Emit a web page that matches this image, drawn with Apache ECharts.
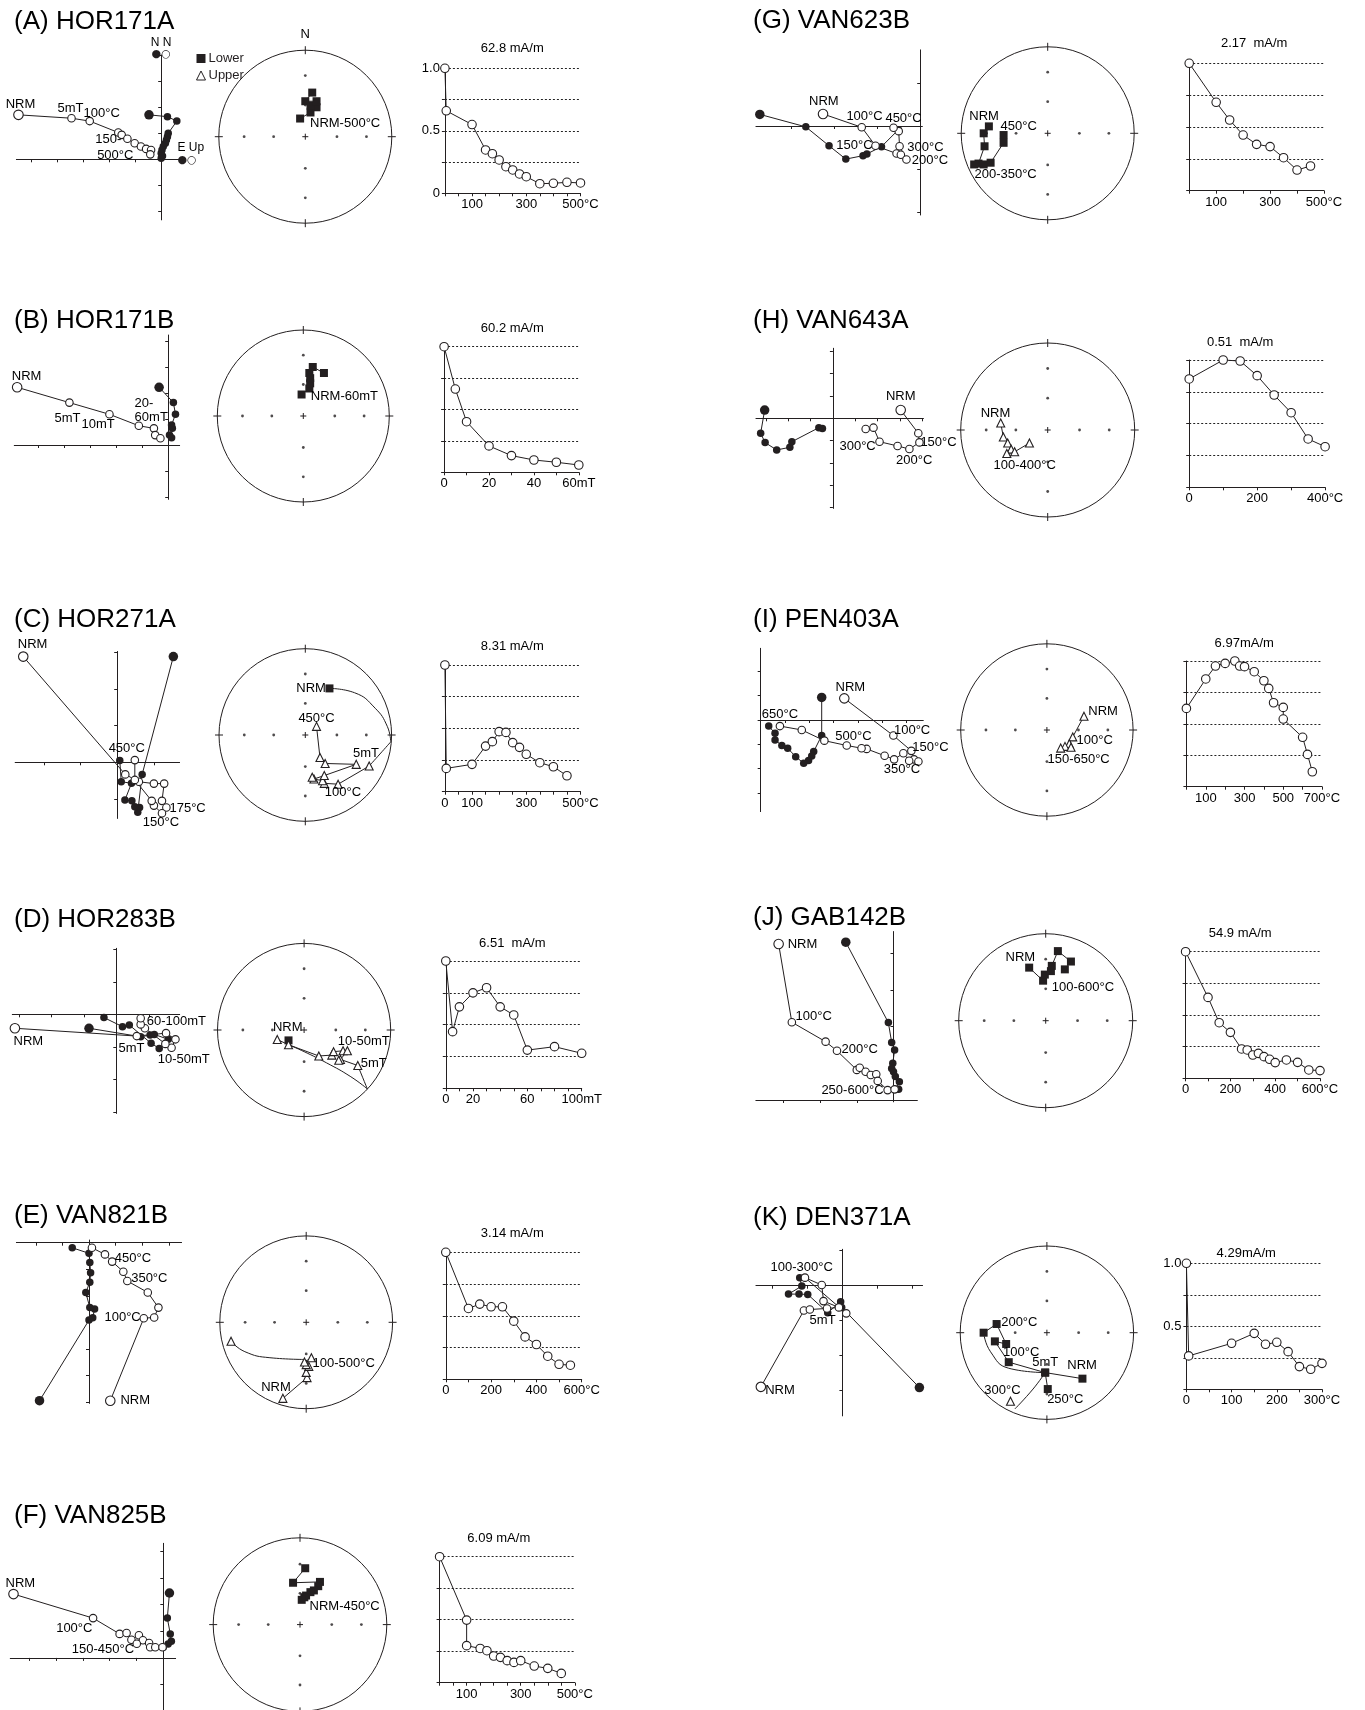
<!DOCTYPE html>
<html>
<head>
<meta charset="utf-8">
<script src="https://cdn.jsdelivr.net/npm/echarts@6/dist/echarts.min.js"></script>
<style>
  html, body { margin: 0; padding: 0; background: #fff; }
  #chart { width: 1365px; height: 1710px; }
</style>
</head>
<body>
<div id="chart"></div>
<script>
// ---------------------------------------------------------------
// Demagnetisation data: orthogonal (Zijderveld) projections in tick
// units, equal-area net positions (east, north) in net radii, and
// normalised intensity decay curves.
// ---------------------------------------------------------------

// (A) HOR171A
const hor171aOpen = [[-5.49,1.71],[-3.45,1.58],[-2.75,1.47],[-1.65,1.03],[-1.52,0.94],[-1.30,0.79],[-1.02,0.62],[-0.78,0.49],[-0.58,0.40],[-0.39,0.36],[-0.42,0.19]];
const hor171aFilled = [[-0.47,1.71],[0.24,1.64],[0.60,1.47],[0.27,1.00],[0.24,0.87],[0.20,0.74],[0.16,0.62],[0.08,0.49],[0.03,0.36],[0.00,0.23],[0.05,0.13],[0.00,0.04]];
const hor171aLower = [[[-0.06,0.21],[0.06,0.28],[0.13,0.34],[0.06,0.36],[0.13,0.41],[0.00,0.41],[0.08,0.51]]];
const hor171aSteps = [0,5,100,150,175,200,225,250,275,300,350,400,450,500];
const hor171aMoment = [1.0,0.66,0.55,0.347,0.317,0.267,0.213,0.187,0.155,0.133,0.077,0.08,0.088,0.083];
const hor171aStepLabels = [100,300,500];

// (B) HOR171B
const hor171bOpen = [[-5.81,2.22],[-3.80,1.63],[-2.26,1.18],[-1.13,0.74],[-0.55,0.64],[-0.50,0.38],[-0.30,0.26]];
const hor171bFilled = [[-0.35,2.22],[0.20,1.63],[0.28,1.18],[0.13,0.77],[0.16,0.64],[0.05,0.38],[0.13,0.28]];
const hor171bLower = [[[-0.02,0.25],[0.07,0.32],[0.08,0.38],[0.08,0.44],[0.07,0.50],[0.11,0.57],[0.24,0.50]]];
const hor171bSteps = [0,5,10,20,30,40,50,60];
const hor171bMoment = [1.0,0.663,0.403,0.21,0.133,0.098,0.08,0.058];
const hor171bStepLabels = [0,20,40,60];

// (C) HOR271A
const hor271aOpen = [[-2.56,2.88],[0.22,-0.33],[0.59,-0.53],[1.00,-0.58],[1.28,-0.58],[1.22,-1.05],[1.34,-1.23],[1.22,-1.39],[1.00,-1.18],[0.94,-1.05],[0.48,-0.48],[0.48,0.06]];
const hor271aFilled = [[1.53,2.88],[0.68,-0.33],[0.56,-1.36],[0.61,-1.23],[0.48,-1.21],[0.40,-1.05],[0.21,-1.03],[0.39,-0.57],[0.11,-0.53],[0.07,0.05]];
const hor271aLower = [[[0.28,0.54]]];
const hor271aUpper = [[[0.74,-0.36],[0.38,-0.57],[0.22,-0.56],[0.20,-0.53],[0.10,-0.51],[0.08,-0.49],[0.22,-0.47],[0.59,-0.34],[0.23,-0.33],[0.17,-0.26],[0.13,0.10]]];
const hor271aArcs = [[[0.28,0.54],[0.57,0.49],[0.81,0.31],[0.95,0.10],[0.99,-0.08]],[[0.99,-0.08],[0.74,-0.36]]];
const hor271aSteps = [0,5,100,150,175,200,225,250,275,300,350,400,450];
const hor271aMoment = [1.0,0.184,0.216,0.36,0.395,0.474,0.468,0.387,0.35,0.295,0.229,0.197,0.126];
const hor271aStepLabels = [0,100,300,500];

// (D) HOR283B
const hor283bOpen = [[-3.12,-0.43],[0.63,-0.67],[1.53,-0.58],[1.82,-0.77],[1.70,-1.03],[1.51,-0.91],[0.88,-0.43],[0.75,-0.31],[0.75,-0.12]];
const hor283bFilled = [[-0.84,-0.43],[0.75,-0.69],[1.04,-0.64],[1.17,-0.62],[1.60,-0.77],[1.32,-1.05],[1.07,-0.89],[0.40,-0.33],[0.19,-0.38],[-0.38,-0.10]];
const hor283bLower = [[[-0.18,-0.12]]];
const hor283bUpper = [[[-0.31,-0.11],[-0.18,-0.17],[0.17,-0.30],[0.32,-0.29],[0.34,-0.25],[0.45,-0.24],[0.50,-0.24],[0.42,-0.34],[0.40,-0.35],[0.62,-0.41]]];
const hor283bArcs = [[[-0.18,-0.17],[0.00,-0.25],[0.26,-0.38],[0.54,-0.54],[0.73,-0.68]],[[0.62,-0.41],[0.73,-0.68]]];
const hor283bSteps = [0,5,10,20,30,40,50,60,80,100];
const hor283bMoment = [1.0,0.445,0.64,0.75,0.79,0.64,0.576,0.30,0.327,0.275];
const hor283bStepLabels = [0,20,60,100];

// (E) VAN821B
const van821bOpen = [[0.80,-5.94],[2.06,-2.84],[2.45,-2.81],[2.61,-2.44],[2.21,-1.87],[1.44,-1.44],[1.29,-1.09],[0.87,-0.71],[0.60,-0.44],[0.11,-0.19]];
const van821bFilled = [[-1.86,-5.94],[0.00,-2.91],[0.14,-2.82],[0.21,-2.49],[0.03,-2.44],[-0.12,-1.87],[0.03,-1.49],[0.06,-1.13],[0.03,-0.74],[0.00,-0.40],[-0.63,-0.19]];
const van821bUpper = [[[-0.27,-0.88],[0.01,-0.64],[0.00,-0.58],[0.03,-0.51],[0.00,-0.49],[-0.02,-0.46],[0.06,-0.41]],[[-0.87,-0.22]]];
const van821bArcs = [[[-0.87,-0.22],[-0.71,-0.34],[-0.42,-0.41],[-0.02,-0.43]]];
const van821bSteps = [0,100,150,200,250,300,350,400,450,500,550];
const van821bMoment = [1.0,0.558,0.592,0.571,0.571,0.458,0.334,0.274,0.182,0.118,0.111];
const van821bStepLabels = [0,200,400,600];

// (F) VAN825B
const van825bOpen = [[-5.59,2.39],[-2.62,1.49],[-1.63,0.90],[-1.37,0.93],[-1.19,0.68],[-0.91,0.85],[-0.76,0.66],[-0.99,0.53],[-0.53,0.56],[-0.49,0.40],[-0.30,0.40],[-0.03,0.40]];
const van825bFilled = [[0.23,2.43],[0.15,1.49],[0.26,0.90],[0.30,0.62],[0.18,0.52],[0.00,0.40]];
const van825bLower = [[[0.06,0.66],[-0.08,0.49],[0.23,0.50],[0.21,0.45],[0.16,0.40],[0.12,0.38],[0.07,0.34],[0.05,0.32],[0.02,0.29]]];
const van825bSteps = [0,100,100,150,175,200,225,250,275,300,350,400,450];
const van825bMoment = [1.0,0.497,0.294,0.272,0.254,0.212,0.201,0.175,0.161,0.175,0.132,0.114,0.074];
const van825bStepLabels = [100,300,500];

// (G) VAN623B
const van623bOpen = [[-2.26,0.28],[-1.36,-0.03],[-1.04,-0.46],[-0.55,-0.64],[-0.45,-0.67],[-0.32,-0.78],[-0.48,-0.47],[-0.50,-0.12],[-0.62,-0.04]];
const van623bFilled = [[-3.73,0.27],[-2.66,-0.02],[-2.12,-0.46],[-1.73,-0.77],[-1.33,-0.69],[-1.24,-0.65],[-0.90,-0.48],[-0.51,-0.09]];
const van623bLower = [[[-0.68,0.08],[-0.74,0.00],[-0.73,-0.15],[-0.80,-0.35],[-0.85,-0.36],[-0.74,-0.36],[-0.66,-0.34],[-0.51,-0.11],[-0.51,-0.02]]];
const van623bSteps = [0,100,150,200,250,300,350,400,450];
const van623bMoment = [1.0,0.694,0.555,0.437,0.364,0.346,0.259,0.162,0.194];
const van623bStepLabels = [100,300,500];

// (H) VAN643A
const van643aOpen = [[3.04,0.37],[3.83,-0.67],[3.88,-1.08],[3.43,-1.38],[2.90,-1.24],[2.09,-1.05],[1.82,-0.42],[1.47,-0.48]];
const van643aFilled = [[-3.06,0.37],[-3.24,-0.67],[-3.04,-1.09],[-2.52,-1.42],[-1.93,-1.30],[-1.84,-1.05],[-0.63,-0.42],[-0.47,-0.46]];
const van643aUpper = [[[-0.54,0.08],[-0.51,-0.08],[-0.46,-0.15],[-0.42,-0.22],[-0.47,-0.27],[-0.38,-0.25],[-0.21,-0.15]]];
const van643aSteps = [0,100,150,200,250,300,350,400];
const van643aMoment = [0.851,1.0,0.992,0.877,0.725,0.586,0.38,0.319];
const van643aStepLabels = [0,200,400];

// (I) PEN403A
const pen403aOpen = [[3.44,0.89],[5.46,-0.64],[6.20,-1.27],[6.31,-1.62],[6.49,-1.71],[6.11,-1.68],[5.87,-1.37],[5.49,-1.62],[5.10,-1.47],[4.36,-1.19],[4.15,-1.16],[3.54,-1.05],[2.62,-0.85],[1.69,-0.41],[0.79,-0.25]];
const pen403aFilled = [[2.51,0.93],[2.51,-0.64],[2.18,-1.30],[2.10,-1.48],[1.97,-1.67],[1.77,-1.78],[1.44,-1.51],[1.11,-1.16],[0.87,-1.05],[0.59,-0.82],[0.59,-0.55],[0.33,-0.25]];
const pen403aUpper = [[[0.43,0.16],[0.30,-0.08],[0.26,-0.16],[0.21,-0.19],[0.16,-0.21],[0.28,-0.20]]];
const pen403aSteps = [0,100,150,200,250,275,300,350,400,425,450,500,500,600,625,650];
const pen403aMoment = [0.623,0.857,0.96,0.981,1.0,0.96,0.955,0.915,0.843,0.782,0.668,0.631,0.538,0.393,0.257,0.119];
const pen403aStepLabels = [100,300,500,700];

// (J) GAB142B
const gab142bOpen = [[-3.13,4.25],[-2.77,2.12],[-1.85,1.59],[-1.54,1.34],[-1.00,0.82],[-0.92,0.88],[-0.76,0.77],[-0.62,0.68],[-0.47,0.70],[-0.43,0.52],[-0.16,0.27],[0.03,0.29]];
const gab142bFilled = [[-1.30,4.30],[-0.14,2.11],[-0.05,1.57],[0.03,1.36],[-0.02,1.00],[-0.05,0.86],[0.00,0.77],[0.05,0.64],[0.16,0.50],[0.05,0.29],[0.14,0.29]];
const gab142bLower = [[[-0.19,0.61],[-0.03,0.46],[-0.01,0.53],[0.06,0.57],[0.07,0.63],[0.14,0.80],[0.29,0.68],[0.22,0.59]]];
const gab142bSteps = [0,100,150,200,250,275,300,325,350,375,400,450,500,550,600];
const gab142bMoment = [1.0,0.639,0.439,0.363,0.232,0.224,0.184,0.197,0.171,0.15,0.124,0.145,0.126,0.066,0.061];
const gab142bStepLabels = [0,200,400,600];

// (K) DEN371A
const den371aOpen = [[-2.33,-2.89],[-1.10,-0.71],[-0.93,-0.68],[-0.44,-0.65],[-0.10,-0.62],[-0.54,-0.44],[-0.59,0.02],[-1.07,0.23],[0.11,-0.79]];
const den371aFilled = [[2.20,-2.91],[-0.02,-0.62],[-0.05,-0.46],[-0.42,-0.77],[-0.99,-0.25],[-1.24,-0.24],[-1.54,-0.24],[-1.16,-0.01],[-1.22,0.23]];
const den371aLower = [[[0.41,-0.53],[-0.02,-0.46],[-0.44,-0.34],[-0.60,-0.10],[-0.47,-0.13],[-0.58,0.10],[-0.73,0.00]],[[-0.02,-0.46],[0.01,-0.65]]];
const den371aUpper = [[[-0.42,-0.79]]];
const den371aArcs = [[[-0.73,0.00],[-0.65,-0.22],[-0.44,-0.41],[-0.02,-0.46]],[[-0.02,-0.46],[-0.16,-0.65],[-0.37,-0.88]]];
const den371aSteps = [0,5,100,150,175,200,225,250,275,300];
const den371aMoment = [1.0,0.265,0.365,0.444,0.357,0.373,0.299,0.18,0.159,0.206];
const den371aStepLabels = [0,100,200,300];

// Inclination rings marked on every equal-area net
const ringInclinations = [60, 30];

// ---------------------------------------------------------------
// Layout and styling of the eleven specimens
// ---------------------------------------------------------------
const FONT = '"Liberation Sans", Arial, Helvetica, sans-serif';
const INK = '#231f20';

const panels = [
  { title: '(A) HOR171A', at: [14, 22],
    zij: { open: hor171aOpen, filled: hor171aFilled, origin: [161.2, 159.3], unit: 26, x: [-5.57, 0.78], y: [-2.33, 4.01], names: { x: 'E Up', y: 'N N' },
      labels: [['open',0,'NRM',2,-10],['open',1,'5mT',-1,-10],['open',2,'100°C',12,-8],['open',3,'150-',-10,7],['open',10,'500°C',-35,1]] },
    net: { lower: hor171aLower, upper: [], arcs: [], center: [305.3, 136.7], r: 86.5, north: true,
      labels: [['lower',0,0,'NRM-500°C',45,5]] },
    demag: { steps: hor171aSteps, moment: hor171aMoment, stepLabels: hor171aStepLabels, unit: '°C', tick: 50, box: [444.9, 68.3, 580.5, 193.3], title: '62.8 mA/m', titleAt: [512.3, 48.3], yLabels: [0, 0.5, 1] } },

  { title: '(B) HOR171B', at: [14, 321],
    zij: { open: hor171bOpen, filled: hor171bFilled, origin: [168.2, 445], unit: 26, x: [-5.92, 0.44], y: [-2.09, 4.23],
      labels: [['open',0,'NRM',9.4,-11.3],['open',1,'5mT',-2,15.7],['open',2,'10mT',-11.4,10],['filled',0,'20-\n60mT',-24.5,22.7,'left']] },
    net: { lower: hor171bLower, upper: [], arcs: [], center: [303.3, 416], r: 86,
      labels: [['lower',0,0,'NRM-60mT',42.8,2.3]] },
    demag: { steps: hor171bSteps, moment: hor171bMoment, stepLabels: hor171bStepLabels, unit: 'mT', tick: 10, box: [444.1, 346.7, 578.8, 472.3], title: '60.2 mA/m', titleAt: [512.3, 328.3] } },

  { title: '(C) HOR271A', at: [14, 620],
    zij: { open: hor271aOpen, filled: hor271aFilled, origin: [117.2, 762.3], unit: 36.7, x: [-2.78, 1.70], y: [-1.53, 3.02],
      labels: [['open',0,'NRM',9.4,-11.7],['filled',9,'450°C',7,-12.3],['open',6,'175°C',21.2,1],['open',7,'150°C',-1,9.3]] },
    net: { lower: hor271aLower, upper: hor271aUpper, arcs: hor271aArcs, center: [305.3, 735], r: 86.3,
      labels: [['lower',0,0,'NRM',-18.4,0],['upper',0,10,'450°C',0,-8.3],['upper',0,7,'5mT',9.8,-10.7],['upper',0,1,'100°C',4.9,8.3]] },
    demag: { steps: hor271aSteps, moment: hor271aMoment, stepLabels: hor271aStepLabels, unit: '°C', tick: 50, box: [444.9, 665, 580.5, 791.7], title: '8.31 mA/m', titleAt: [512.3, 646.7] } },

  { title: '(D) HOR283B', at: [14, 920],
    zij: { open: hor283bOpen, filled: hor283bFilled, origin: [116.3, 1014.3], unit: 32.5, x: [-3.2, 1.95], y: [-3.05, 2.03],
      labels: [['open',0,'NRM',13.5,13.3],['open',8,'60-100mT',6.1,3.3,'left'],['open',1,'5mT',-5.3,12.3],['open',4,'10-50mT',12.2,11.7]] },
    net: { lower: hor283bLower, upper: hor283bUpper, arcs: hor283bArcs, center: [304.1, 1030], r: 86.6,
      labels: [['lower',0,0,'NRM',-0.8,-13.3],['upper',0,6,'10-50mT',16.3,-9],['upper',0,9,'5mT',15.9,-2.3]] },
    demag: { steps: hor283bSteps, moment: hor283bMoment, stepLabels: hor283bStepLabels, unit: 'mT', tick: 10, box: [445.8, 961, 581.7, 1088.3], title: '6.51  mA/m', titleAt: [512.3, 943.3] } },

  { title: '(E) VAN821B', at: [14, 1216],
    zij: { open: van821bOpen, filled: van821bFilled, origin: [89, 1242.7], unit: 26.6, x: [-2.73, 3.48], y: [-6.04, 0.1],
      labels: [['open',0,'NRM',10.2,0,'left'],['open',1,'100°C',-21.2,-1],['open',5,'350°C',22,-2.7],['open',7,'450°C',20.8,-3.3]] },
    net: { lower: [], upper: van821bUpper, arcs: van821bArcs, center: [306.2, 1322.3], r: 86.4,
      labels: [['upper',0,0,'NRM',-6.9,-11],['upper',0,4,'100-500°C',37.5,-1]] },
    demag: { steps: van821bSteps, moment: van821bMoment, stepLabels: van821bStepLabels, unit: '°C', tick: 100, box: [445.8, 1252.3, 581.7, 1379.3], title: '3.14 mA/m', titleAt: [512.3, 1233.3] } },

  { title: '(F) VAN825B', at: [14, 1516],
    zij: { open: van825bOpen, filled: van825bFilled, origin: [163.3, 1658.3], unit: 26.8, x: [-5.71, 0.46], y: [-1.95, 4.29],
      labels: [['open',0,'NRM',6.9,-11],['open',1,'100°C',-18.8,10],['open',2,'150-450°C',-16.7,15.7]] },
    net: { lower: van825bLower, upper: [], arcs: [], center: [300, 1626], r: 86.8,
      labels: [['lower',0,8,'NRM-450°C',42.9,6.7]] },
    demag: { steps: van825bSteps, moment: van825bMoment, stepLabels: van825bStepLabels, unit: '°C', tick: 50, box: [439.6, 1556.7, 574.8, 1682.7], title: '6.09 mA/m', titleAt: [498.8, 1538.3] } },

  { title: '(G) VAN623B', at: [753, 21],
    zij: { open: van623bOpen, filled: van623bFilled, origin: [920.2, 126], unit: 43, x: [-3.82, 0.05], y: [-2.07, 1.77],
      labels: [['open',0,'NRM',0.8,-12.3],['open',1,'100°C',2.8,-10.7],['open',8,'450°C',10,-9.3],['open',2,'150°C',-21.1,-0.7],['open',6,'300°C',25.9,1.7],['open',5,'200°C',23.5,1.3]] },
    net: { lower: van623bLower, upper: [], arcs: [], center: [1047.7, 133.3], r: 86.5,
      labels: [['lower',0,0,'NRM',-4.8,-10],['lower',0,8,'450°C',15.1,-9],['lower',0,3,'200-350°C',27.1,11.3]] },
    demag: { steps: van623bSteps, moment: van623bMoment, stepLabels: van623bStepLabels, unit: '°C', tick: 100, box: [1189.2, 63.3, 1324, 190.7], title: '2.17  mA/m', titleAt: [1254.2, 43.3] } },

  { title: '(H) VAN643A', at: [753, 321],
    zij: { open: van643aOpen, filled: van643aFilled, origin: [832.9, 418.3], unit: 22.3, x: [-3.45, 4.06], y: [-4.04, 3.14],
      labels: [['open',0,'NRM',0,-13.3],['open',2,'150°C',19.1,0.3],['open',3,'200°C',4.8,11.7],['open',5,'300°C',-21.9,5]] },
    net: { lower: [], upper: van643aUpper, arcs: [], center: [1047.7, 430], r: 87,
      labels: [['upper',0,0,'NRM',-5.2,-10],['upper',0,4,'100-400°C',17.9,11.7]] },
    demag: { steps: van643aSteps, moment: van643aMoment, stepLabels: van643aStepLabels, unit: '°C', tick: 100, box: [1189.2, 360, 1325.1, 487.3], title: '0.51  mA/m', titleAt: [1240.2, 342.7] } },

  { title: '(I) PEN403A', at: [753, 620],
    zij: { open: pen403aOpen, filled: pen403aFilled, origin: [760.7, 720], unit: 24.3, x: [-0.11, 6.69], y: [-3.77, 2.95],
      labels: [['open',0,'NRM',6,-11],['open',1,'100°C',18.7,-4.7],['open',2,'150°C',19.1,-3.7],['open',5,'350°C',-7.2,9],['open',12,'500°C',29.1,-4],['open',14,'650°C',0,-12]] },
    net: { lower: [], upper: pen403aUpper, arcs: [], center: [1046.9, 730], r: 86.2,
      labels: [['upper',0,0,'NRM',19.1,-4.3],['upper',0,1,'100°C',21.9,3.3],['upper',0,4,'150-650°C',17.9,11]] },
    demag: { steps: pen403aSteps, moment: pen403aMoment, stepLabels: pen403aStepLabels, unit: '°C', tick: 100, box: [1186.4, 661, 1322, 786.7], title: '6.97mA/m', titleAt: [1244.2, 643.3] } },

  { title: '(J) GAB142B', at: [753, 918],
    zij: { open: gab142bOpen, filled: gab142bFilled, origin: [893.5, 1100], unit: 36.7, x: [-3.75, 0.65], y: [-0.05, 4.59],
      labels: [['open',0,'NRM',23.9,0],['open',1,'100°C',21.9,-5.7],['open',3,'200°C',22.7,-1],['open',10,'250-600°C',-35.1,0.7]] },
    net: { lower: gab142bLower, upper: [], arcs: [], center: [1045.7, 1020.7], r: 87,
      labels: [['lower',0,0,'NRM',-8.8,-10.3],['lower',0,1,'100-600°C',39.9,7]] },
    demag: { steps: gab142bSteps, moment: gab142bMoment, stepLabels: gab142bStepLabels, unit: '°C', tick: 100, box: [1185.6, 951.7, 1320, 1078.3], title: '54.9 mA/m', titleAt: [1240.2, 933.3] } },

  { title: '(K) DEN371A', at: [753, 1218],
    zij: { open: den371aOpen, filled: den371aFilled, origin: [842.4, 1285.7], unit: 35, x: [-2.47, 2.29], y: [-3.72, 1.04],
      labels: [['open',7,'100-300°C',-3.2,-10],['open',3,'5mT',-4.4,11.7],['open',0,'NRM',19.1,3.3]] },
    net: { lower: den371aLower, upper: den371aUpper, arcs: den371aArcs, center: [1046.9, 1332.7], r: 86.7,
      labels: [['lower',0,0,'NRM',-0.4,-13.3],['lower',0,1,'5mT',0,-10],['lower',0,2,'100°C',12.4,-9.3],['lower',0,5,'200°C',22.7,-1.3],['lower',1,1,'250°C',17.5,10.7],['upper',0,0,'300°C',-8,-10.7]] },
    demag: { steps: den371aSteps, moment: den371aMoment, stepLabels: den371aStepLabels, unit: '°C', tick: 50, box: [1186.4, 1263.3, 1322, 1389.3], title: '4.29mA/m', titleAt: [1246.2, 1253.3], yLabels: [0.5, 1] } }
];

// ---------------------------------------------------------------
// Option assembly
// ---------------------------------------------------------------
const option = {
  animation: false,
  backgroundColor: '#fff',
  textStyle: { fontFamily: FONT, color: INK },
  title: [], grid: [], xAxis: [], yAxis: [], series: [],
  legend: {
    left: 196, top: 52, orient: 'vertical', padding: 0, itemGap: 4,
    itemWidth: 9, itemHeight: 9, selectedMode: false,
    textStyle: { fontSize: 13, color: INK, fontFamily: FONT, padding: [0, 0, 0, -2] },
    data: [
      { name: 'Lower', icon: 'rect', itemStyle: { color: INK, borderWidth: 0 } },
      { name: 'Upper', icon: 'triangle', itemStyle: { color: '#fff', borderColor: INK, borderWidth: 1 } }
    ]
  }
};

function addGrid(rect, xAxis, yAxis) {
  const i = option.grid.length;
  option.grid.push(Object.assign({ containLabel: false }, rect));
  option.xAxis.push(Object.assign({ gridIndex: i }, xAxis));
  option.yAxis.push(Object.assign({ gridIndex: i }, yAxis));
  return i;
}

function mkLabel(text, dx, dy, align) {
  return {
    show: true, position: 'inside', offset: [dx, dy], formatter: text,
    color: '#000', fontSize: 13, fontFamily: FONT, lineHeight: 14,
    align: align || 'center', verticalAlign: 'middle'
  };
}

function openStyle() { return { color: '#fff', borderColor: INK, borderWidth: 1.1 }; }
function lineStyle() { return { color: INK, width: 1 }; }

// Orthogonal vector-endpoint diagram: axes cross at the origin
function buildZij(z) {
  const [ox, oy] = z.origin, u = z.unit;
  const ticks = (a, b) => { const t = []; for (let v = Math.ceil(a); v <= Math.floor(b); v++) if (v !== 0) t.push(v); return t; };
  const rich = {
    t: { fontSize: 12, fontFamily: FONT, color: '#000', lineHeight: 13 },
    m: { fontSize: 11, fontFamily: '"DejaVu Sans", sans-serif', color: INK, lineHeight: 11 }
  };
  const axis = (range, names, isX) => ({
    type: 'value', min: range[0], max: range[1],
    axisLine: { show: true, onZero: true, lineStyle: { color: INK, width: 1 } },
    axisTick: { show: true, length: 3, customValues: ticks(range[0], range[1]), lineStyle: { color: INK, width: 1 } },
    axisLabel: { show: false }, splitLine: { show: false },
    name: names ? '{t|' + names + '}\n{m|●○}' : '',
    nameLocation: 'end',
    nameGap: isX ? -4 : -5,
    nameTextStyle: isX ? { rich, align: 'left', verticalAlign: 'middle', padding: [0, 0, 12, 0] } : { rich, align: 'center' }
  });
  const i = addGrid(
    { left: ox + z.x[0] * u, top: oy - z.y[1] * u, width: (z.x[1] - z.x[0]) * u, height: (z.y[1] - z.y[0]) * u },
    axis(z.x, z.names && z.names.x, true),
    axis(z.y, z.names && z.names.y, false)
  );
  const items = (pts, kind) => pts.map((p, k) => {
    const it = { value: p, symbolSize: k === 0 ? 9.5 : 7.5 };
    const l = z.labels.find(L => L[0] === kind && L[1] === k);
    if (l) it.label = mkLabel(l[2], l[3], l[4], l[5]);
    return it;
  });
  option.series.push({
    type: 'line', xAxisIndex: i, yAxisIndex: i, silent: true, clip: false, z: 3,
    symbol: 'circle', itemStyle: { color: INK }, lineStyle: lineStyle(),
    data: items(z.filled, 'filled')
  });
  option.series.push({
    type: 'line', xAxisIndex: i, yAxisIndex: i, silent: true, clip: false, z: 4,
    symbol: 'circle', itemStyle: openStyle(), lineStyle: lineStyle(),
    data: items(z.open, 'open')
  });
}

// Equal-area projection radius for a given inclination (degrees)
function equalAreaRadius(inc) { return Math.SQRT2 * Math.sin((90 - inc) / 2 * Math.PI / 180); }

// Lower-hemisphere equal-area net
function buildNet(n) {
  const [cx, cy] = n.center, r = n.r;
  const hidden = { show: false };
  const i = addGrid(
    { left: cx - r, top: cy - r, width: 2 * r, height: 2 * r },
    { type: 'value', min: -1, max: 1, show: false },
    { type: 'value', min: -1, max: 1, show: !!n.north,
      axisLine: hidden, axisTick: hidden, axisLabel: hidden, splitLine: hidden,
      name: n.north ? 'N' : '', nameLocation: 'end', nameGap: 9,
      nameTextStyle: { fontSize: 13, color: '#000', fontFamily: FONT, align: 'center' } }
  );
  // primitive circle, cardinal ticks and centre cross
  option.series.push({
    type: 'custom', xAxisIndex: i, yAxisIndex: i, silent: true, clip: false, z: 1,
    data: [[0, 0]],
    renderItem: (params, api) => {
      const c = api.coord([0, 0]), e = api.coord([1, 0]);
      const R = e[0] - c[0], t = 4, s = 3;
      const ln = (x1, y1, x2, y2) => ({ type: 'line', shape: { x1, y1, x2, y2 }, style: { stroke: INK, lineWidth: 1 } });
      return { type: 'group', children: [
        { type: 'circle', shape: { cx: c[0], cy: c[1], r: R }, style: { fill: 'none', stroke: INK, lineWidth: 1 } },
        ln(c[0], c[1] - R - t, c[0], c[1] - R + t),
        ln(c[0], c[1] + R - t, c[0], c[1] + R + t),
        ln(c[0] - R - t, c[1], c[0] - R + t, c[1]),
        ln(c[0] + R - t, c[1], c[0] + R + t, c[1]),
        ln(c[0] - s, c[1], c[0] + s, c[1]),
        ln(c[0], c[1] - s, c[0], c[1] + s)
      ] };
    }
  });
  const dots = [];
  ringInclinations.map(equalAreaRadius).forEach(rr => { dots.push([0, rr], [0, -rr], [rr, 0], [-rr, 0]); });
  option.series.push({
    type: 'scatter', xAxisIndex: i, yAxisIndex: i, silent: true, clip: false, z: 1,
    symbol: 'circle', symbolSize: 2.8, itemStyle: { color: INK }, data: dots
  });
  n.arcs.forEach(path => option.series.push({
    type: 'line', xAxisIndex: i, yAxisIndex: i, silent: true, clip: false, z: 2,
    smooth: 0.5, symbol: 'none', lineStyle: lineStyle(), data: path
  }));
  const items = (path, kind, p) => path.map((pt, k) => {
    const it = { value: pt };
    const l = n.labels.find(L => L[0] === kind && L[1] === p && L[2] === k);
    if (l) it.label = mkLabel(l[3], l[4], l[5], l[6]);
    return it;
  });
  n.lower.forEach((path, p) => option.series.push({
    name: 'Lower', type: 'line', xAxisIndex: i, yAxisIndex: i, silent: true, clip: false, z: 3,
    symbol: 'rect', symbolSize: 8, itemStyle: { color: INK }, lineStyle: lineStyle(),
    data: items(path, 'lower', p)
  }));
  n.upper.forEach((path, p) => option.series.push({
    name: 'Upper', type: 'line', xAxisIndex: i, yAxisIndex: i, silent: true, clip: false, z: 4,
    symbol: 'triangle', symbolSize: 8, itemStyle: openStyle(), lineStyle: lineStyle(),
    data: items(path, 'upper', p)
  }));
}

// Normalised intensity versus demagnetisation step
function buildDemag(d) {
  const [x0, y1, x1, y0] = d.box;
  const max = d.stepLabels[d.stepLabels.length - 1];
  const axisLine = { show: true, onZero: false, lineStyle: { color: INK, width: 1 } };
  const axisTick = { show: true, length: 3, lineStyle: { color: INK, width: 1 } };
  const i = addGrid(
    { left: x0, top: y1, width: x1 - x0, height: y0 - y1 },
    { type: 'value', min: 0, max: max, interval: d.tick, axisLine, axisTick,
      axisLabel: { show: true, margin: 5, fontSize: 13, color: '#000', fontFamily: FONT, showMinLabel: true, showMaxLabel: true,
        formatter: v => d.stepLabels.includes(v) ? (v === max ? v + d.unit : String(v)) : '' },
      splitLine: { show: false } },
    { type: 'value', min: 0, max: 1, interval: 0.25, axisLine, axisTick,
      axisLabel: { show: !!d.yLabels, margin: 5, fontSize: 13, color: '#000', fontFamily: FONT, showMinLabel: true, showMaxLabel: true,
        formatter: v => (d.yLabels && d.yLabels.includes(v)) ? (v === 1 ? '1.0' : String(v)) : '' },
      splitLine: { show: true, lineStyle: { color: '#222', width: 1, type: [2, 2] } } }
  );
  option.series.push({
    type: 'line', xAxisIndex: i, yAxisIndex: i, silent: true, clip: false, z: 3,
    symbol: 'circle', symbolSize: 8.5, itemStyle: openStyle(), lineStyle: lineStyle(),
    data: d.steps.map((s, k) => [s, d.moment[k]])
  });
  option.title.push({
    text: d.title, left: d.titleAt[0], top: d.titleAt[1], padding: 0,
    textAlign: 'center', textVerticalAlign: 'middle',
    textStyle: { fontSize: 13, fontWeight: 'normal', color: '#000', fontFamily: FONT }
  });
}

panels.forEach(p => {
  option.title.push({
    text: p.title, left: p.at[0], top: p.at[1], padding: 0,
    textAlign: 'left', textVerticalAlign: 'middle',
    textStyle: { fontSize: 26, fontWeight: 'normal', color: '#000', fontFamily: FONT }
  });
  buildZij(p.zij);
  buildNet(p.net);
  buildDemag(p.demag);
});

const chart = echarts.init(document.getElementById('chart'), null, { renderer: 'canvas', width: 1365, height: 1710 });
chart.setOption(option);
</script>
</body>
</html>
